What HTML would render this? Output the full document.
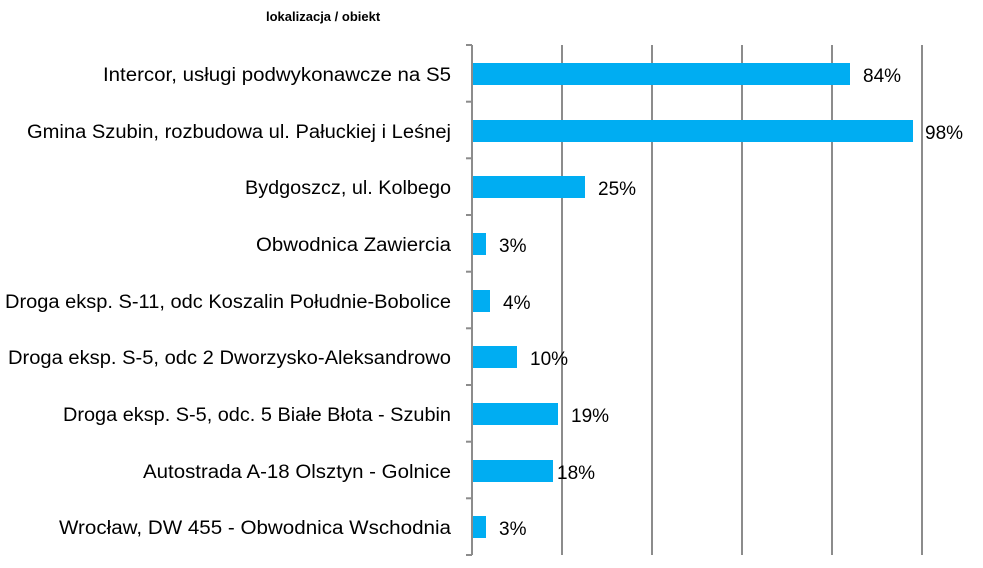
<!DOCTYPE html><html><head><style>body{margin:0;background:#fff}</style></head><body>
<svg width="983" height="563" xmlns="http://www.w3.org/2000/svg" font-family="Liberation Sans, sans-serif">
<text x="266" y="21" font-size="13" font-weight="bold" fill="#000">lokalizacja / obiekt</text>
<g stroke="#8c8c8c" stroke-width="2">
<line x1="562" y1="45" x2="562" y2="555"/><line x1="652" y1="45" x2="652" y2="555"/><line x1="742" y1="45" x2="742" y2="555"/><line x1="832" y1="45" x2="832" y2="555"/><line x1="922" y1="45" x2="922" y2="555"/>
<line x1="472" y1="45" x2="472" y2="555"/>
<line x1="466" y1="45" x2="472" y2="45"/><line x1="466" y1="101.7" x2="472" y2="101.7"/><line x1="466" y1="158.3" x2="472" y2="158.3"/><line x1="466" y1="215" x2="472" y2="215"/><line x1="466" y1="271.7" x2="472" y2="271.7"/><line x1="466" y1="328.3" x2="472" y2="328.3"/><line x1="466" y1="385" x2="472" y2="385"/><line x1="466" y1="441.7" x2="472" y2="441.7"/><line x1="466" y1="498.3" x2="472" y2="498.3"/><line x1="466" y1="555" x2="472" y2="555"/>
</g>
<g fill="#00adf2">
<rect x="473" y="63" width="377" height="22"/>
<rect x="473" y="120" width="440" height="22"/>
<rect x="473" y="176" width="112" height="22"/>
<rect x="473" y="233" width="13" height="22"/>
<rect x="473" y="290" width="17" height="22"/>
<rect x="473" y="346" width="44" height="22"/>
<rect x="473" y="403" width="85" height="22"/>
<rect x="473" y="460" width="80" height="22"/>
<rect x="473" y="516" width="13" height="22"/>
</g>
<g font-size="19" fill="#000" lengthAdjust="spacingAndGlyphs">
<text x="103" y="81" textLength="348" lengthAdjust="spacingAndGlyphs">Intercor, usługi podwykonawcze na S5</text>
<text x="27" y="138" textLength="424" lengthAdjust="spacingAndGlyphs">Gmina Szubin, rozbudowa ul. Pałuckiej i Leśnej</text>
<text x="245" y="194" textLength="206" lengthAdjust="spacingAndGlyphs">Bydgoszcz, ul. Kolbego</text>
<text x="256" y="251" textLength="195" lengthAdjust="spacingAndGlyphs">Obwodnica Zawiercia</text>
<text x="5" y="308" textLength="446" lengthAdjust="spacingAndGlyphs">Droga eksp. S-11, odc Koszalin Południe-Bobolice</text>
<text x="8" y="364" textLength="443" lengthAdjust="spacingAndGlyphs">Droga eksp. S-5, odc 2 Dworzysko-Aleksandrowo</text>
<text x="63" y="421" textLength="388" lengthAdjust="spacingAndGlyphs">Droga eksp. S-5, odc. 5 Białe Błota - Szubin</text>
<text x="143" y="478" textLength="308" lengthAdjust="spacingAndGlyphs">Autostrada A-18 Olsztyn - Golnice</text>
<text x="59" y="534" textLength="392" lengthAdjust="spacingAndGlyphs">Wrocław, DW 455 - Obwodnica Wschodnia</text>
</g>
<g font-size="19" fill="#000">
<text x="863" y="82">84%</text>
<text x="925" y="139">98%</text>
<text x="598" y="195">25%</text>
<text x="499" y="252">3%</text>
<text x="503" y="309">4%</text>
<text x="530" y="365">10%</text>
<text x="571" y="422">19%</text>
<text x="557" y="479">18%</text>
<text x="499" y="535">3%</text>
</g>
</svg></body></html>
